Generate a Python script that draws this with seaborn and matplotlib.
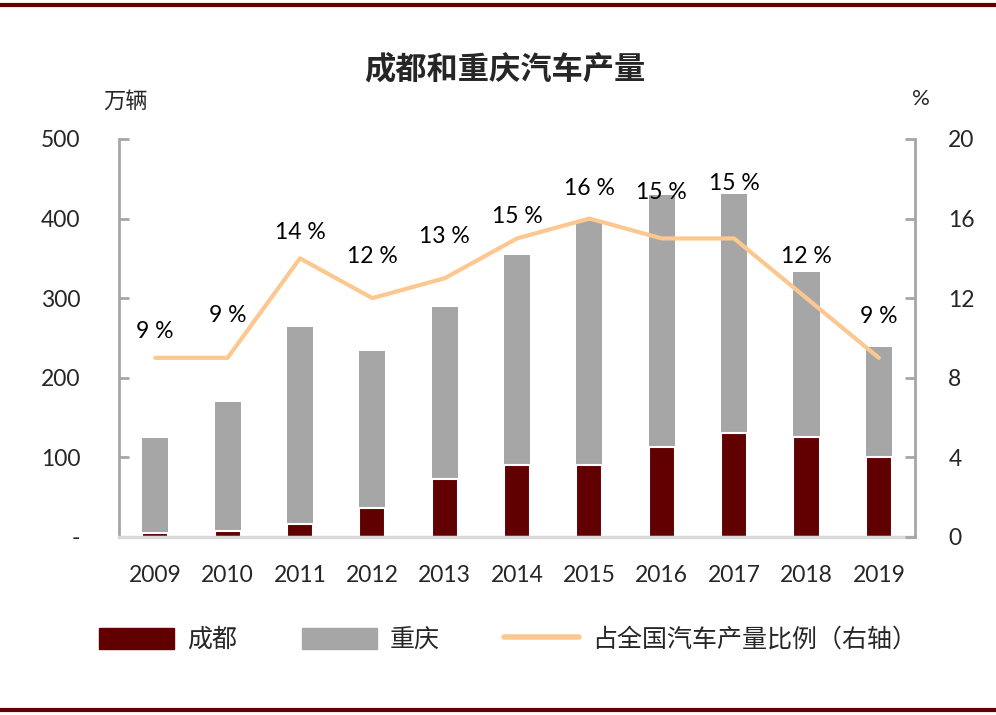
import matplotlib.pyplot as plt
import matplotlib.lines as mlines
import matplotlib.patches as mpatches
import seaborn as sns
import pandas as pd
import numpy as np

# 数据
years = ["2009", "2010", "2011", "2012", "2013", "2014", "2015", "2016", "2017", "2018", "2019"]
chengdu = [5, 7, 16, 37, 73, 91, 91, 113, 131, 126, 101]
chongqing = [119, 162, 248, 197, 216, 263, 306, 317, 300, 207, 138]
share = [9, 9, 14, 12, 13, 15, 16, 15, 15, 12, 9]

df = pd.DataFrame({"year": years, "成都": chengdu, "重庆": chongqing, "share": share})
df["total"] = df["成都"] + df["重庆"]

c_cd = "#600000"
c_cq = "#a6a6a6"
c_line = "#fcc88f"
cjk = ["Noto Sans CJK SC", "DejaVu Sans"]
num = ["Lato", "DejaVu Sans"]

sns.set_style("white")
plt.rcParams["font.family"] = cjk

fig = plt.figure(figsize=(9.96, 7.15), dpi=100)
ax = fig.add_axes([0.1195, 0.249, 0.7992, 0.5567])

# 堆叠柱：先画总量（灰），再画成都（深红）覆盖底部
sns.barplot(data=df, x="year", y="total", color=c_cq, width=0.36, ax=ax,
            saturation=1, edgecolor="none")
sns.barplot(data=df, x="year", y="成都", color=c_cd, width=0.36, ax=ax,
            saturation=1, edgecolor="white", linewidth=1.5)

ax.set_xlim(-0.5, len(years) - 0.5)
ax.set_ylim(0, 500)
ax.set_yticks(range(0, 501, 100))
ax.set_yticklabels(["-"] + [str(v) for v in range(100, 501, 100)])
ax.set_xlabel("")
ax.set_ylabel("")

# 右轴折线
ax2 = ax.twinx()
sns.lineplot(x=np.arange(len(years)), y=df["share"], ax=ax2, color=c_line,
             linewidth=3, legend=False)
ax2.set_ylim(0, 20)
ax2.set_yticks(range(0, 21, 4))
ax2.set_ylabel("")

label_dy = [26, 42, 26, 42, 42, 22, 30, 46, 55, 42, 41]
for i, v in enumerate(share):
    ax2.annotate(f"{v} %", (i, v), xytext=(0, label_dy[i]), textcoords="offset pixels",
                 ha="center", va="center", fontsize=16.5, family=num, color="#000000")

for a in (ax, ax2):
    for s in a.spines.values():
        s.set_visible(False)
ax.spines["left"].set_visible(True)
ax.spines["left"].set_color("#a6a6a6")
ax.spines["left"].set_linewidth(2)
ax.spines["bottom"].set_visible(True)
ax.spines["bottom"].set_color("#d9d9d9")
ax.spines["bottom"].set_linewidth(2.5)
ax2.spines["right"].set_visible(True)
ax2.spines["right"].set_color("#a6a6a6")
ax2.spines["right"].set_linewidth(2)

ax.tick_params(axis="y", direction="in", length=7, width=2, color="#a6a6a6",
               labelsize=16.5, pad=28)
ax.tick_params(axis="x", length=0, labelsize=16.5, pad=20)
ax2.tick_params(axis="y", direction="in", length=7, width=2, color="#a6a6a6",
                labelsize=16.5, pad=24)
for lab in ax.get_xticklabels() + ax.get_yticklabels() + ax2.get_yticklabels():
    lab.set_family(num)

# 标题与单位
fig.text(0.507, 0.902, "成都和重庆汽车产量", ha="center", va="center",
         fontsize=22.5, fontweight="bold", family=cjk)
fig.text(0.126, 0.858, "万辆", ha="center", va="center", fontsize=16, family=cjk)
fig.text(0.925, 0.862, "%", ha="center", va="center", fontsize=16, family=num)

# 图例
handles = [mpatches.Patch(color=c_cd, label="成都"),
           mpatches.Patch(color=c_cq, label="重庆"),
           mlines.Line2D([], [], color=c_line, linewidth=4, label="占全国汽车产量比例（右轴）")]
fig.legend(handles=handles, loc="center", bbox_to_anchor=(0.51, 0.105), ncol=3,
           frameon=False, fontsize=18, handlelength=3.0, handleheight=0.95,
           columnspacing=2.6, handletextpad=0.5)

# 上下边框线
fig.add_artist(mlines.Line2D([0, 1], [0.993, 0.993], color="#600000", linewidth=3))
fig.add_artist(mlines.Line2D([0, 1], [0.007, 0.007], color="#600000", linewidth=3))

fig.savefig("out.png", dpi=100)
